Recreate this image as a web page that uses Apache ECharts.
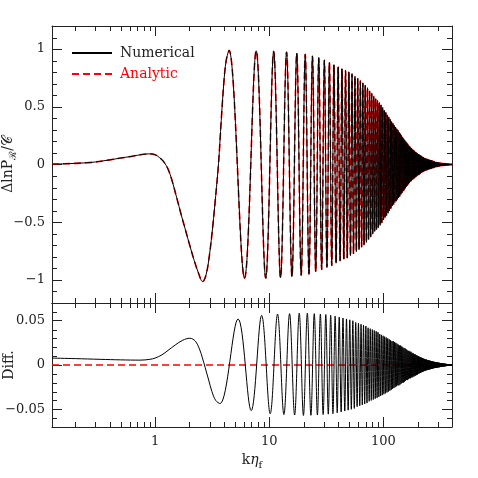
<!DOCTYPE html>
<html>
<head>
<meta charset="utf-8">
<script src="https://cdn.jsdelivr.net/npm/echarts@6/dist/echarts.min.js"></script>
<style>
  html, body { margin: 0; padding: 0; background: #fff; }
  #chart { width: 478px; height: 478px; }
</style>
</head>
<body>
<div id="chart"></div>
<script>
// k eta_f range of both panels
const kMin = 0.125;
const kMax = 400;

// upper panel: curve at small k, before the oscillations start
const lowK = [0.125, 0.16, 0.2, 0.25, 0.3, 0.4, 0.5, 0.6, 0.7, 0.8, 0.9, 1.0, 1.1, 1.2, 1.3, 1.4, 1.55, 1.7, 1.85, 2.0,
  2.2, 2.4, 2.61, 2.8, 3.0, 3.2, 3.4, 3.6, 3.8, 4.0, 4.2];
const lowY = [0.003, 0.006, 0.01, 0.015, 0.022, 0.04, 0.056, 0.068, 0.08, 0.089, 0.092, 0.085, 0.058, 0.02, -0.04, -0.13, -0.29, -0.44, -0.57, -0.69,
  -0.83, -0.94, -1.015, -0.955, -0.78, -0.54, -0.27, 0.01, 0.38, 0.7, 0.9];

// upper panel: successive maxima / minima of the oscillation
const extK = [
  4.45, 6.08, 7.7, 9.33, 10.95, 12.58, 14.2, 15.83, 17.45, 19.08,
  20.7, 22.33, 23.95, 25.58, 27.2, 28.83, 30.45, 32.08, 33.7, 35.33,
  36.95, 38.58, 40.2, 41.83, 43.45, 45.08, 46.7, 48.33, 49.95, 51.58,
  53.2, 54.83, 56.45, 58.08, 59.7, 61.33, 62.95, 64.58, 66.2, 67.83,
  69.45, 71.08, 72.7, 74.33, 75.95, 77.58, 79.2, 80.83, 82.45, 84.08,
  85.7, 87.33, 88.95, 90.58, 92.2, 93.83, 95.45, 97.08, 98.7, 100.3,
  102, 103.6, 105.2, 106.8, 108.5, 110.1, 111.7, 113.3, 115, 116.6,
  118.2, 119.8, 121.5, 123.1, 124.7, 126.3, 128, 129.6, 131.2, 132.8,
  134.5, 136.1, 137.7, 139.3, 141, 142.6, 144.2, 145.8, 147.5, 149.1,
  150.7, 152.3, 154, 155.6, 157.2, 158.8, 160.5, 162.1, 163.7, 165.3,
  167, 168.6, 170.2, 171.8, 173.5, 175.1, 176.7, 178.3, 180, 181.6,
  183.2, 184.8, 186.5, 188.1, 189.7, 191.3, 193, 194.6, 196.2, 197.8,
  199.5, 201.1, 202.7, 204.3, 206, 207.6, 209.2, 210.8, 212.5, 214.1,
  215.7, 217.3, 219, 220.6, 222.2, 223.8, 225.5, 227.1, 228.7, 230.3,
  232, 233.6, 235.2, 236.8, 238.5, 240.1, 241.7, 243.3, 245, 246.6,
  248.2, 249.8, 251.5, 253.1, 254.7, 256.3, 258, 259.6, 261.2, 262.8,
  264.5, 266.1, 267.7, 269.3, 271, 272.6, 274.2, 275.8, 277.5, 279.1,
  280.7, 282.3, 284, 285.6, 287.2, 288.8, 290.5, 292.1, 293.7, 295.3,
  297, 298.6, 300.2, 301.8, 303.5, 305.1, 306.7, 308.3, 310, 311.6,
  313.2, 314.8, 316.5, 318.1, 319.7, 321.3, 323, 324.6, 326.2, 327.8,
  329.5, 331.1, 332.7, 334.3, 336, 337.6, 339.2, 340.8, 342.5, 344.1,
  345.7, 347.3, 349, 350.6, 352.2, 353.8, 355.5, 357.1, 358.7, 360.3,
  362, 363.6, 365.2, 366.8, 368.5, 370.1, 371.7, 373.3, 375, 376.6,
  378.2, 379.8, 381.5, 383.1, 384.7, 386.3, 388, 389.6, 391.2, 392.8,
  394.5, 396.1, 397.7, 399.3];
const extY = [
  0.99, -0.985, 0.985, -0.985, 0.98, -0.98, 0.975, -0.97, 0.965, -0.96,
  0.955, -0.95, 0.94, -0.93, 0.925, -0.91, 0.905, -0.89, 0.885, -0.875,
  0.865, -0.855, 0.845, -0.835, 0.83, -0.82, 0.815, -0.81, 0.8, -0.79,
  0.785, -0.775, 0.765, -0.755, 0.745, -0.735, 0.725, -0.715, 0.705, -0.695,
  0.685, -0.675, 0.665, -0.65, 0.635, -0.625, 0.615, -0.6, 0.59, -0.58,
  0.57, -0.565, 0.555, -0.545, 0.535, -0.525, 0.515, -0.505, 0.495, -0.48,
  0.47, -0.46, 0.45, -0.44, 0.43, -0.42, 0.41, -0.4, 0.39, -0.38,
  0.37, -0.36, 0.355, -0.345, 0.34, -0.33, 0.325, -0.315, 0.31, -0.3,
  0.295, -0.29, 0.28, -0.275, 0.265, -0.26, 0.25, -0.245, 0.235, -0.23,
  0.225, -0.22, 0.21, -0.205, 0.2, -0.195, 0.19, -0.185, 0.18, -0.17,
  0.165, -0.16, 0.155, -0.15, 0.148, -0.145, 0.14, -0.135, 0.13, -0.128,
  0.125, -0.12, 0.118, -0.115, 0.11, -0.108, 0.105, -0.102, 0.1, -0.098,
  0.095, -0.093, 0.09, -0.088, 0.085, -0.083, 0.081, -0.078, 0.076, -0.073,
  0.071, -0.069, 0.067, -0.065, 0.063, -0.061, 0.06, -0.058, 0.056, -0.054,
  0.052, -0.051, 0.05, -0.049, 0.048, -0.047, 0.046, -0.045, 0.044, -0.043,
  0.042, -0.041, 0.04, -0.039, 0.039, -0.038, 0.037, -0.036, 0.035, -0.035,
  0.034, -0.033, 0.032, -0.031, 0.03, -0.029, 0.028, -0.027, 0.026, -0.025,
  0.024, -0.023, 0.022, -0.021, 0.021, -0.02, 0.019, -0.019, 0.018, -0.018,
  0.017, -0.017, 0.016, -0.016, 0.016, -0.015, 0.015, -0.015, 0.014, -0.014,
  0.014, -0.013, 0.013, -0.012, 0.012, -0.012, 0.011, -0.011, 0.011, -0.01,
  0.01, -0.01, 0.0095, -0.0092, 0.009, -0.0087, 0.0085, -0.0082, 0.008, -0.0078,
  0.0076, -0.0074, 0.0072, -0.007, 0.0068, -0.0066, 0.0064, -0.0062, 0.006, -0.0059,
  0.0058, -0.0057, 0.0056, -0.0055, 0.0054, -0.0053, 0.0052, -0.0051, 0.005, -0.0049,
  0.0048, -0.0047, 0.0046, -0.0045, 0.0044, -0.0043, 0.0042, -0.0041, 0.004, -0.0039,
  0.0038, -0.0037, 0.0036, -0.0035];

// lower panel (Diff.): small-k part
const diffLowK = [0.125, 0.2, 0.33, 0.5, 0.74, 0.9, 1.0, 1.15, 1.3, 1.5, 1.75, 2.02, 2.25, 2.45, 2.6, 2.75, 2.95, 3.15, 3.4];
const diffLowY = [0.0078, 0.0072, 0.0064, 0.0058, 0.0055, 0.0064, 0.0078, 0.0115, 0.0165, 0.0225, 0.028, 0.0302, 0.027, 0.018, 0.008, -0.003, -0.017, -0.03, -0.04];

// lower panel: successive minima / maxima
const diffExtK = [
  3.71, 5.34, 6.96, 8.59, 10.21, 11.84, 13.46, 15.09, 16.71, 18.34,
  19.96, 21.59, 23.21, 24.84, 26.46, 28.09, 29.71, 31.34, 32.96, 34.59,
  36.21, 37.84, 39.46, 41.09, 42.71, 44.34, 45.96, 47.59, 49.21, 50.84,
  52.46, 54.09, 55.71, 57.34, 58.96, 60.59, 62.21, 63.84, 65.46, 67.09,
  68.71, 70.34, 71.96, 73.59, 75.21, 76.84, 78.46, 80.09, 81.71, 83.34,
  84.96, 86.59, 88.21, 89.84, 91.46, 93.09, 94.71, 96.34, 97.96, 99.59,
  101.2, 102.8, 104.5, 106.1, 107.7, 109.3, 111, 112.6, 114.2, 115.8,
  117.5, 119.1, 120.7, 122.3, 124, 125.6, 127.2, 128.8, 130.5, 132.1,
  133.7, 135.3, 137, 138.6, 140.2, 141.8, 143.5, 145.1, 146.7, 148.3,
  150, 151.6, 153.2, 154.8, 156.5, 158.1, 159.7, 161.3, 163, 164.6,
  166.2, 167.8, 169.5, 171.1, 172.7, 174.3, 176, 177.6, 179.2, 180.8,
  182.5, 184.1, 185.7, 187.3, 189, 190.6, 192.2, 193.8, 195.5, 197.1,
  198.7, 200.3, 202, 203.6, 205.2, 206.8, 208.5, 210.1, 211.7, 213.3,
  215, 216.6, 218.2, 219.8, 221.5, 223.1, 224.7, 226.3, 228, 229.6,
  231.2, 232.8, 234.5, 236.1, 237.7, 239.3, 241, 242.6, 244.2, 245.8,
  247.5, 249.1, 250.7, 252.3, 254, 255.6, 257.2, 258.8, 260.5, 262.1,
  263.7, 265.3, 267, 268.6, 270.2, 271.8, 273.5, 275.1, 276.7, 278.3,
  280, 281.6, 283.2, 284.8, 286.5, 288.1, 289.7, 291.3, 293, 294.6,
  296.2, 297.8, 299.5, 301.1, 302.7, 304.3, 306, 307.6, 309.2, 310.8,
  312.5, 314.1, 315.7, 317.3, 319, 320.6, 322.2, 323.8, 325.5, 327.1,
  328.7, 330.3, 332, 333.6, 335.2, 336.8, 338.5, 340.1, 341.7, 343.3,
  345, 346.6, 348.2, 349.8, 351.5, 353.1, 354.7, 356.3, 358, 359.6,
  361.2, 362.8, 364.5, 366.1, 367.7, 369.3, 371, 372.6, 374.2, 375.8,
  377.5, 379.1, 380.7, 382.3, 384, 385.6, 387.2, 388.8, 390.5, 392.1,
  393.7, 395.3, 397, 398.6];
const diffExtY = [
  -0.0436, 0.052, -0.0515, 0.056, -0.055, 0.0575, -0.056, 0.058, -0.0565, 0.0585,
  -0.057, 0.0585, -0.0568, 0.058, -0.0565, 0.0575, -0.056, 0.057, -0.0555, 0.0562,
  -0.055, 0.0552, -0.054, 0.054, -0.053, 0.053, -0.052, 0.052, -0.051, 0.051,
  -0.05, 0.05, -0.049, 0.048, -0.047, 0.047, -0.046, 0.046, -0.045, 0.045,
  -0.044, 0.044, -0.043, 0.042, -0.041, 0.041, -0.04, 0.04, -0.039, 0.039,
  -0.038, 0.038, -0.037, 0.037, -0.036, 0.035, -0.035, 0.034, -0.034, 0.033,
  -0.033, 0.032, -0.032, 0.031, -0.031, 0.03, -0.03, 0.029, -0.029, 0.028,
  -0.028, 0.027, -0.027, 0.027, -0.026, 0.026, -0.025, 0.025, -0.024, 0.024,
  -0.023, 0.023, -0.023, 0.022, -0.022, 0.022, -0.021, 0.021, -0.02, 0.02,
  -0.02, 0.019, -0.019, 0.019, -0.018, 0.018, -0.017, 0.017, -0.017, 0.016,
  -0.016, 0.016, -0.015, 0.015, -0.015, 0.015, -0.014, 0.014, -0.014, 0.013,
  -0.013, 0.013, -0.013, 0.012, -0.012, 0.012, -0.012, 0.011, -0.011, 0.011,
  -0.011, 0.01, -0.01, 0.0098, -0.0096, 0.0094, -0.0092, 0.009, -0.0088, 0.0086,
  -0.0084, 0.0082, -0.008, 0.0078, -0.0076, 0.0074, -0.0072, 0.0071, -0.0069, 0.0068,
  -0.0066, 0.0065, -0.0063, 0.0062, -0.0061, 0.006, -0.0058, 0.0057, -0.0056, 0.0055,
  -0.0054, 0.0053, -0.0052, 0.0051, -0.005, 0.0049, -0.0048, 0.0047, -0.0046, 0.0045,
  -0.0044, 0.0043, -0.0042, 0.0041, -0.004, 0.0039, -0.0038, 0.0038, -0.0037, 0.0036,
  -0.0035, 0.0035, -0.0034, 0.0033, -0.0033, 0.0032, -0.0031, 0.0031, -0.003, 0.003,
  -0.0029, 0.0028, -0.0028, 0.0027, -0.0027, 0.0026, -0.0026, 0.0025, -0.0025, 0.0024,
  -0.0024, 0.0023, -0.0023, 0.0022, -0.0022, 0.0021, -0.0021, 0.002, -0.002, 0.0019,
  -0.0019, 0.0018, -0.0018, 0.0017, -0.0017, 0.0016, -0.0016, 0.0016, -0.0015, 0.0015,
  -0.0015, 0.0014, -0.0014, 0.0014, -0.0013, 0.0013, -0.0013, 0.0012, -0.0012, 0.0012,
  -0.0011, 0.0011, -0.0011, 0.001, -0.001, 0.001, -0.001, 0.0009, -0.0009, 0.0009,
  -0.0009, 0.0008, -0.0008, 0.0008, -0.0008, 0.0007, -0.0007, 0.0007, -0.0007, 0.0006,
  -0.0006, 0.0006, -0.0006, 0.0005];

// analytic reference in the Diff. panel
const zeroK = [0.125, 400];
const zeroY = [0, 0];

// ticks
const kLabels = [1, 10, 100];
const kMinor = [0.2, 0.3, 0.4, 0.5, 0.6, 0.7, 0.8, 0.9, 2, 3, 4, 5, 6, 7, 8, 9, 20, 30, 40, 50, 60, 70, 80, 90, 200, 300];
const topTicks = [-1, -0.5, 0, 0.5, 1];
const topMinor = [-1.1, -0.9, -0.8, -0.7, -0.6, -0.4, -0.3, -0.2, -0.1, 0.1, 0.2, 0.3, 0.4, 0.6, 0.7, 0.8, 0.9, 1.1];
const diffTicks = [-0.05, 0, 0.05];
const diffMinor = [-0.06, -0.04, -0.03, -0.02, -0.01, 0.01, 0.02, 0.03, 0.04, 0.06];

const topRange = [-1.2, 1.2];
const diffRange = [-0.07, 0.07];

const ink = '#222';
const red = '#ff0000';
const font = "'DejaVu Serif', serif";

const zip = (xs, ys) => xs.map((x, i) => [x, ys[i]]);
const minus = v => (v < 0 ? '\u2212' + (-v) : String(v));
const crisp = v => Math.round(v) + 0.5;

const xAxisBase = (grid, pos, labels) => ({
  gridIndex: grid, type: 'log', logBase: 10, min: kMin, max: kMax, position: pos,
  axisLine: { show: true, onZero: false, lineStyle: { color: ink, width: 1 } },
  axisTick: { show: true, inside: true, length: 10, lineStyle: { color: ink } },
  axisLabel: labels ? {
    show: true, margin: 8, color: ink, fontFamily: font, fontSize: 13,
    formatter: v => (kLabels.some(l => Math.abs(l - v) < 1e-6 * l) ? String(Math.round(v)) : '')
  } : { show: false },
  splitLine: { show: false }, minorTick: { show: false }
});

const yAxisBase = (grid, pos, range, ticks, labels) => ({
  gridIndex: grid, type: 'value', min: range[0], max: range[1], position: pos,
  axisLine: { show: true, onZero: false, lineStyle: { color: ink, width: 1 } },
  axisTick: { show: true, inside: true, length: 10, customValues: ticks, lineStyle: { color: ink } },
  axisLabel: labels ? { show: true, customValues: ticks, margin: 7, color: ink, fontFamily: font, fontSize: 13, formatter: minus } : { show: false },
  splitLine: { show: false }
});

// short minor ticks along the top and bottom edges of a panel
const xMinorTicks = (xi, yi, range) => ({
  type: 'custom', xAxisIndex: xi, yAxisIndex: yi, silent: true, z: 5,
  data: kMinor.map(v => [v, range[0]]),
  renderItem: (params, api) => {
    const b = api.coord([api.value(0), range[0]]);
    const t = api.coord([api.value(0), range[1]]);
    const st = { stroke: ink, lineWidth: 1 };
    return { type: 'group', children: [
      { type: 'line', shape: { x1: crisp(b[0]), y1: b[1], x2: crisp(b[0]), y2: b[1] - 5 }, style: st },
      { type: 'line', shape: { x1: crisp(t[0]), y1: t[1], x2: crisp(t[0]), y2: t[1] + 5 }, style: st }
    ] };
  }
});

// short minor ticks along the left and right edges
const yMinorTicks = (xi, yi, minors) => ({
  type: 'custom', xAxisIndex: xi, yAxisIndex: yi, silent: true, z: 5,
  data: minors.map(v => [kMin, v]),
  renderItem: (params, api) => {
    const l = api.coord([kMin, api.value(1)]);
    const r = api.coord([kMax, api.value(1)]);
    const st = { stroke: ink, lineWidth: 1 };
    return { type: 'group', children: [
      { type: 'line', shape: { x1: l[0], y1: crisp(l[1]), x2: l[0] + 5, y2: crisp(l[1]) }, style: st },
      { type: 'line', shape: { x1: r[0], y1: crisp(r[1]), x2: r[0] - 5, y2: crisp(r[1]) }, style: st }
    ] };
  }
});

const chart = echarts.init(document.getElementById('chart'), null, { renderer: 'canvas' });

chart.setOption({
  animation: false,
  backgroundColor: '#fff',
  textStyle: { fontFamily: font },
  grid: [
    { left: 52, top: 26, width: 400, height: 277, containLabel: false, outerBoundsMode: 'none' },
    { left: 52, top: 303, width: 400, height: 124, containLabel: false, outerBoundsMode: 'none' }
  ],
  legend: {
    left: 71, top: 46, orient: 'vertical', padding: 0,
    itemWidth: 40, itemHeight: 14, itemGap: 7,
    itemStyle: { opacity: 0 },
    textStyle: { fontFamily: font, fontSize: 14, color: ink, padding: [0, 0, 0, 3] },
    data: [
      { name: 'Numerical' },
      { name: 'Analytic', textStyle: { color: red } }
    ]
  },
  xAxis: [
    xAxisBase(0, 'bottom', false),
    xAxisBase(0, 'top', false),
    Object.assign(xAxisBase(1, 'bottom', true), {
      name: '{a|k}{i|\u03B7}{s|f}', nameLocation: 'middle', nameGap: 24, nameMoveOverlap: false,
      nameTextStyle: {
        rich: {
          a: { fontFamily: font, fontSize: 14, color: ink },
          i: { fontFamily: font, fontSize: 14, fontStyle: 'italic', color: ink },
          s: { fontFamily: font, fontSize: 10, color: ink, padding: [9, 0, 0, 0] }
        }
      }
    }),
    xAxisBase(1, 'top', false)
  ],
  yAxis: [
    Object.assign(yAxisBase(0, 'left', topRange, topTicks, true), {
      name: '{a|\u0394lnP}{s|\u211B}{a|/\uD835\uDC9E}', nameLocation: 'middle', nameGap: 34, nameRotate: 90,
      nameMoveOverlap: false,
      nameTextStyle: {
        rich: {
          a: { fontFamily: font, fontSize: 14, color: ink },
          s: { fontFamily: font, fontSize: 10, color: ink, padding: [9, 0, 0, 0] }
        }
      }
    }),
    yAxisBase(0, 'right', topRange, topTicks, false),
    Object.assign(yAxisBase(1, 'left', diffRange, diffTicks, true), {
      name: 'Diff.', nameLocation: 'middle', nameGap: 36, nameRotate: 90, nameMoveOverlap: false,
      nameTextStyle: { fontFamily: font, fontSize: 14, color: ink }
    }),
    yAxisBase(1, 'right', diffRange, diffTicks, false)
  ],
  series: [
    {
      name: 'Analytic', type: 'line', xAxisIndex: 0, yAxisIndex: 0, z: 2,
      data: zip(lowK, lowY).concat(zip(extK, extY)),
      smooth: 0.36, symbol: 'none', showSymbol: false,
      lineStyle: { color: red, width: 1.6, type: [7, 4] }, itemStyle: { color: red }
    },
    {
      name: 'Numerical', type: 'line', xAxisIndex: 0, yAxisIndex: 0, z: 3,
      data: zip(lowK, lowY).concat(zip(extK, extY)),
      smooth: 0.36, symbol: 'none', showSymbol: false,
      lineStyle: { color: '#000', width: 1 }, itemStyle: { color: '#000' }
    },
    {
      name: 'Analytic', type: 'line', xAxisIndex: 2, yAxisIndex: 2, z: 2,
      data: zip(zeroK, zeroY),
      symbol: 'none', showSymbol: false,
      lineStyle: { color: red, width: 1.6, type: [7, 4] }, itemStyle: { color: red }
    },
    {
      name: 'Numerical', type: 'line', xAxisIndex: 2, yAxisIndex: 2, z: 3,
      data: zip(diffLowK, diffLowY).concat(zip(diffExtK, diffExtY)),
      smooth: 0.36, symbol: 'none', showSymbol: false,
      lineStyle: { color: '#000', width: 1 }, itemStyle: { color: '#000' }
    },
    xMinorTicks(0, 0, topRange),
    yMinorTicks(0, 0, topMinor),
    xMinorTicks(2, 2, diffRange),
    yMinorTicks(2, 2, diffMinor)
  ]
});
</script>
</body>
</html>
